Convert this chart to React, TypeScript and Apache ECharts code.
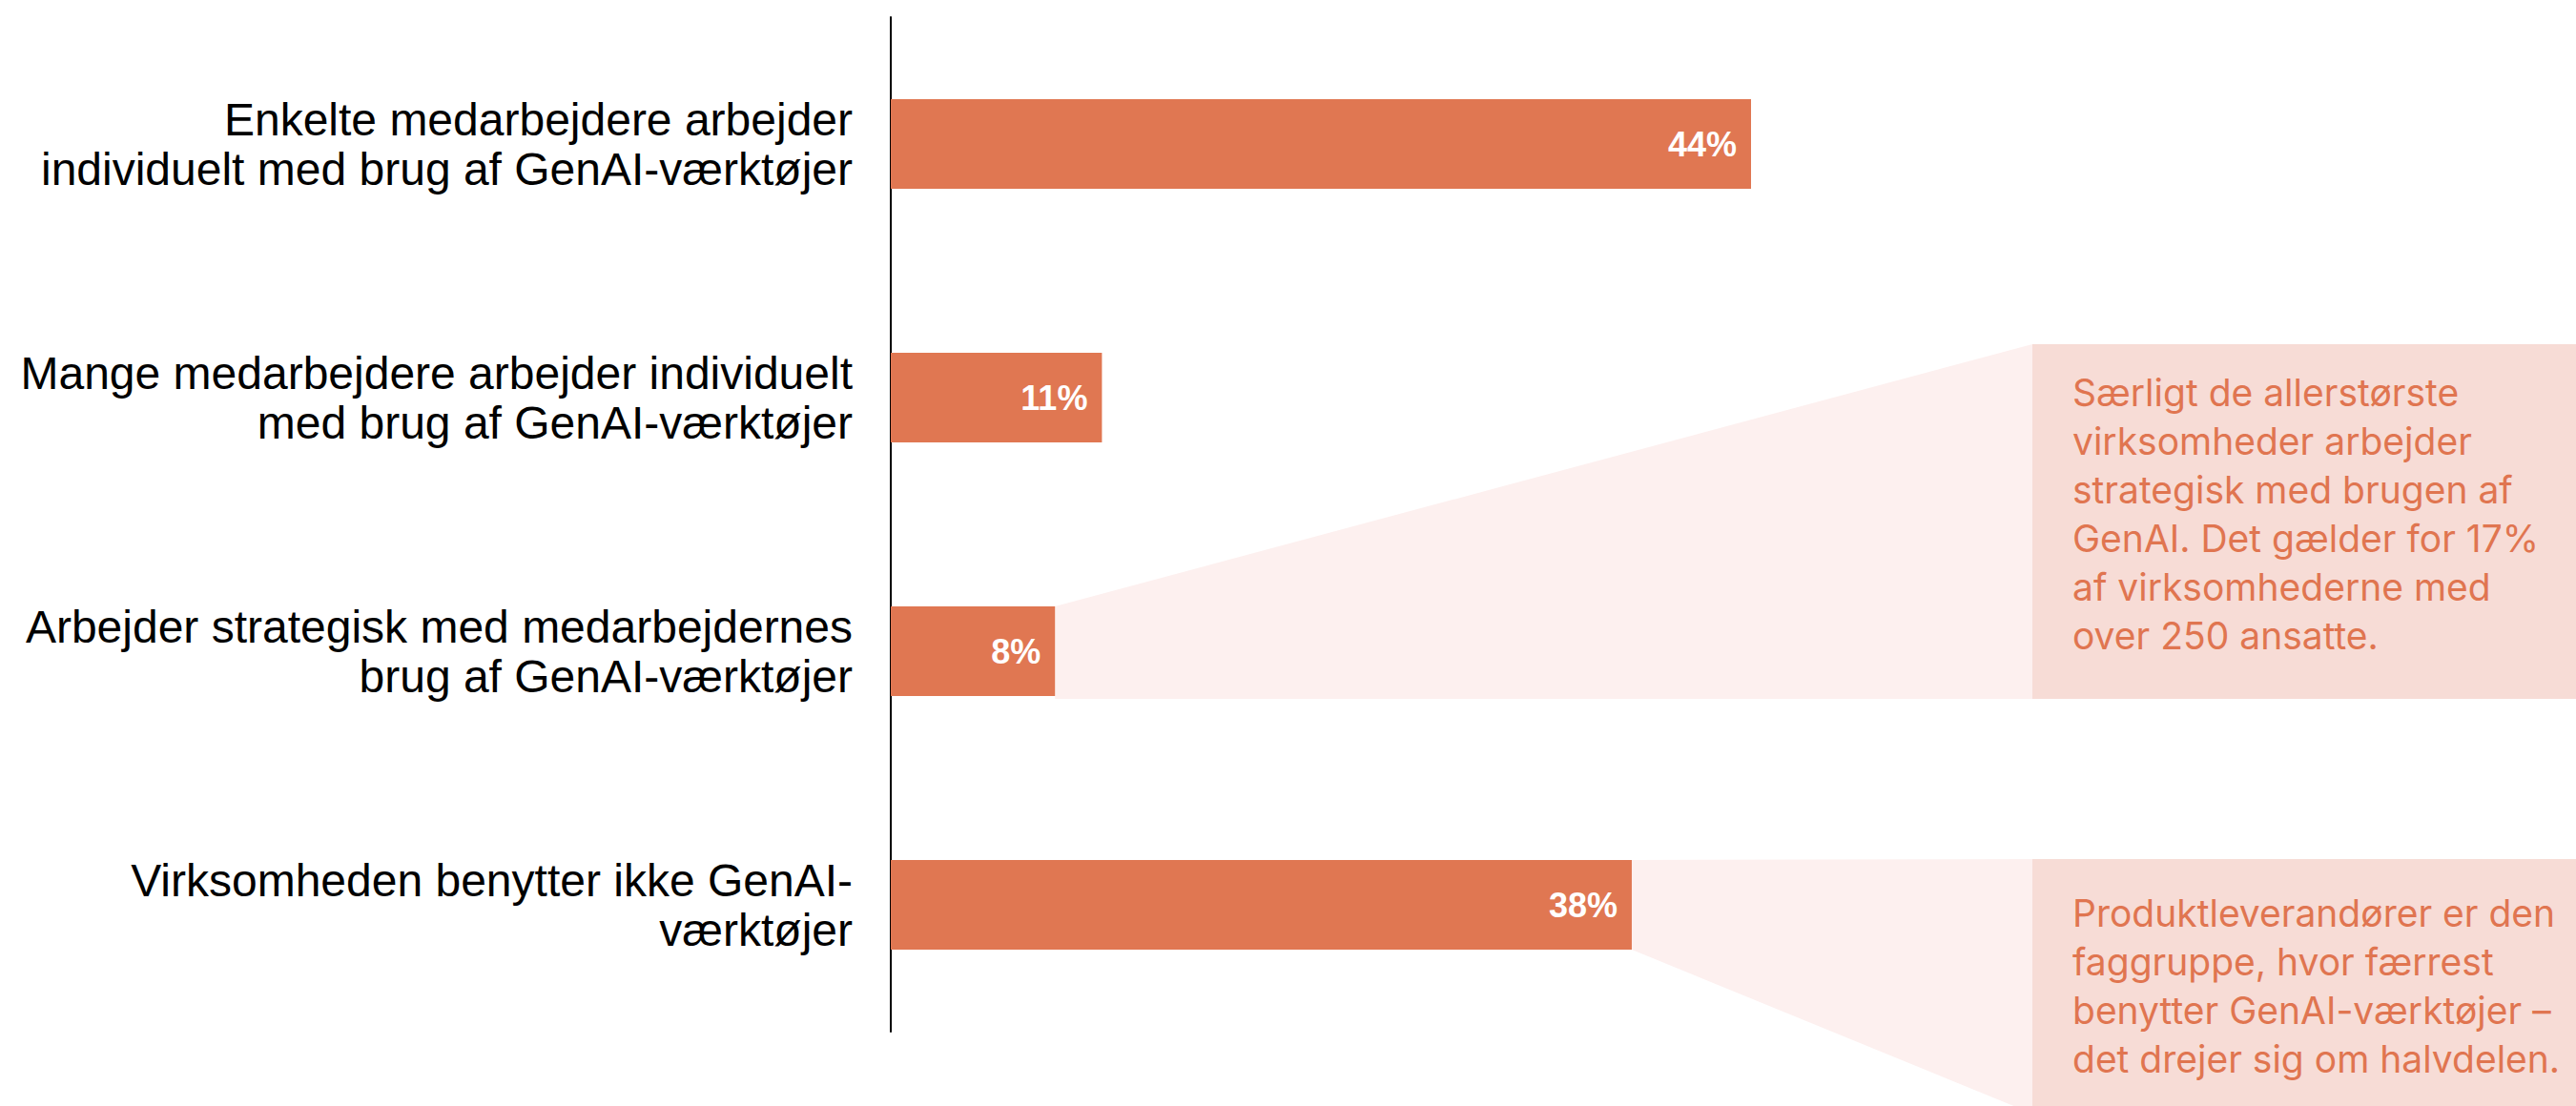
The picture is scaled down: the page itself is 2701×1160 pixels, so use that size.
import React, { useEffect, useRef } from "react";
import * as echarts from "echarts";

const categories = [
  "Enkelte medarbejdere arbejder\nindividuelt med brug af GenAI-værktøjer",
  "Mange medarbejdere arbejder individuelt\nmed brug af GenAI-værktøjer",
  "Arbejder strategisk med medarbejdernes\nbrug af GenAI-værktøjer",
  "Virksomheden benytter ikke GenAI-\nværktøjer",
];
const values = [44, 10.8, 8.4, 37.9];
const valueLabels = ["44%", "11%", "8%", "38%"];

const note1Lines = [
  "Særligt de allerstørste",
  "virksomheder arbejder",
  "strategisk med brugen af",
  "GenAI. Det gælder for 17%",
  "af virksomhederne med",
  "over 250 ansatte.",
];
const note2Lines = [
  "Produktleverandører er den",
  "faggruppe, hvor færrest",
  "benytter GenAI-værktøjer –",
  "det drejer sig om halvdelen.",
];

const BAR = "#E07752";
const PANEL = "#F7DCD6";
const CONNECT = "#FDF0EF";
const NOTE_TEXT = "#E07550";

export default function App() {
  const ref = useRef<HTMLDivElement>(null);
  useEffect(() => {
    const chart = echarts.init(ref.current!, null, { renderer: "svg" });
    const barWidth = 94;
    chart.setOption({
      animation: false,
      backgroundColor: "#ffffff",
      grid: { left: 934, top: 18, width: 1025, height: 1064, containLabel: false },
      xAxis: {
        type: "value",
        min: 0,
        max: 50,
        show: false,
        splitLine: { show: false },
      },
      yAxis: {
        type: "category",
        inverse: true,
        data: categories,
        axisLine: { show: true, lineStyle: { color: "#000000", width: 2 } },
        axisTick: { show: false },
        axisLabel: {
          margin: 40,
          fontSize: 48,
          lineHeight: 52,
          color: "#000000",
          fontFamily: "'Liberation Sans', Arial, sans-serif",
          align: "right",
        },
      },
      series: [
        {
          type: "bar",
          data: values,
          barWidth,
          itemStyle: { color: BAR },
          label: {
            show: true,
            position: "insideRight",
            distance: 15,
            color: "#ffffff",
            fontWeight: "bold",
            fontSize: 36,
            fontFamily: "'Liberation Sans', Arial, sans-serif",
            formatter: (p: any) => valueLabels[p.dataIndex],
          },
        },
      ],
    });

    const px = (v: number, i: number) =>
      chart.convertToPixel({ gridIndex: 0 }, [v, i]) as number[];
    const b3 = px(values[2], 2);
    const b4 = px(values[3], 3);
    const half = barWidth / 2;

    const panelX = 2131;
    const panelW = 2701 - panelX;
    const p1Top = 361;
    const p1Bottom = 733;
    const p2Top = 901;
    const p2Bottom = 1200;
    const textX = 2173;
    const lh = 51;
    const noteFont = "39px Inter, Lato, 'Noto Sans', sans-serif";

    const graphics: any[] = [
      {
        type: "polygon",
        z: 0,
        shape: {
          points: [
            [b3[0], b3[1] - half],
            [panelX, p1Top],
            [panelX, p1Bottom],
            [b3[0], p1Bottom],
          ],
        },
        style: { fill: CONNECT },
      },
      {
        type: "polygon",
        z: 0,
        shape: {
          points: [
            [b4[0], b4[1] - half],
            [panelX, p2Top],
            [panelX, 1168],
            [b4[0], b4[1] + half],
          ],
        },
        style: { fill: CONNECT },
      },
      {
        type: "rect",
        z: 0,
        shape: { x: panelX, y: p1Top, width: panelW, height: p1Bottom - p1Top },
        style: { fill: PANEL },
      },
      {
        type: "rect",
        z: 0,
        shape: { x: panelX, y: p2Top, width: panelW, height: p2Bottom - p2Top },
        style: { fill: PANEL },
      },
    ];
    note1Lines.forEach((t, i) => {
      graphics.push({
        type: "text",
        z: 1,
        x: textX,
        y: 425 - 14 + i * lh,
        style: {
          text: t,
          fill: NOTE_TEXT,
          font: noteFont,
          verticalAlign: "middle",
          align: "left",
        },
      });
    });
    note2Lines.forEach((t, i) => {
      graphics.push({
        type: "text",
        z: 1,
        x: textX,
        y: 971 - 14 + i * lh,
        style: {
          text: t,
          fill: NOTE_TEXT,
          font: noteFont,
          verticalAlign: "middle",
          align: "left",
        },
      });
    });
    chart.setOption({ graphic: graphics });

    return () => chart.dispose();
  }, []);
  return (
    <div
      ref={ref}
      style={{ position: "absolute", left: 0, top: 0, width: 2701, height: 1160 }}
    />
  );
}
